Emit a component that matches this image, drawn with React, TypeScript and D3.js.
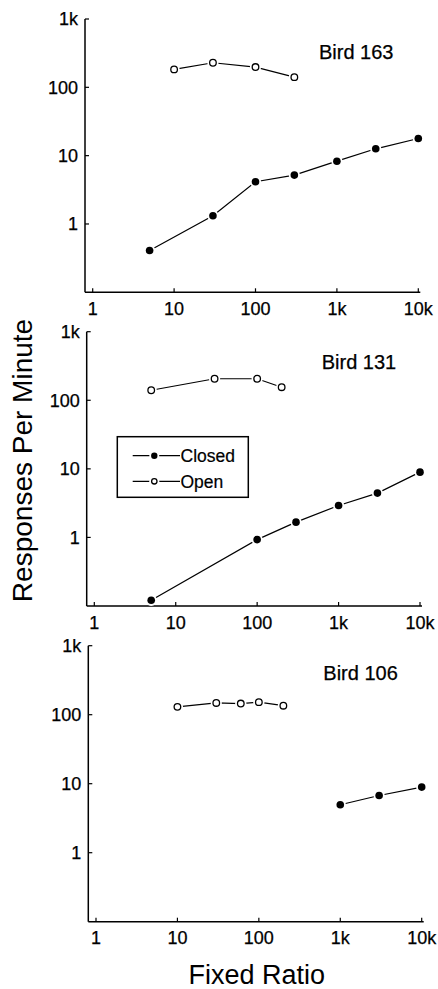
import React from "react";
import * as d3 from "d3";

const birdNames = ["Bird 163", "Bird 131", "Bird 106"];

const bird163OpenX = [10, 30, 100, 300];
const bird163OpenY = [183, 229, 198, 141];
const bird163ClosedX = [5, 30, 100, 300, 1000, 3000, 10000];
const bird163ClosedY = [0.41, 1.32, 4.15, 5.19, 8.3, 12.6, 17.8];

const bird131OpenX = [5, 30, 100, 200];
const bird131OpenY = [140, 206, 206, 155];
const bird131ClosedX = [5, 100, 300, 1000, 3000, 10000];
const bird131ClosedY = [0.121, 0.93, 1.67, 2.92, 4.43, 8.95];

const bird106OpenX = [10, 30, 60, 100, 200];
const bird106OpenY = [130, 148, 145, 152, 135];
const bird106ClosedX = [1000, 3000, 10000];
const bird106ClosedY = [4.95, 6.75, 8.93];

const xTickValues = [1, 10, 100, 1000, 10000];
const xTickLabels = ["1", "10", "100", "1k", "10k"];
const yTickValues = [1, 10, 100, 1000];
const yTickLabels = ["1", "10", "100", "1k"];

const seriesNames = ["Closed", "Open"];
const xTitle = "Fixed Ratio";
const yTitle = "Responses Per Minute";

const zip = (xs: number[], ys: number[]) => xs.map((x, i) => ({ x, y: ys[i] }));

const panelData = [
  { closed: zip(bird163ClosedX, bird163ClosedY), open: zip(bird163OpenX, bird163OpenY) },
  { closed: zip(bird131ClosedX, bird131ClosedY), open: zip(bird131OpenX, bird131OpenY) },
  { closed: zip(bird106ClosedX, bird106ClosedY), open: zip(bird106OpenX, bird106OpenY) },
];

// layout (slightly skewed, as in the scanned original)
const layout = [
  { left: 85, x0: 92.7, x1: 418.3, top: 19, bottom: 292.3, labelX: 319, labelY: 58.5 },
  { left: 86.7, x0: 94.3, x1: 420, top: 331.7, bottom: 606, labelX: 321.7, labelY: 368.5 },
  { left: 88.3, x0: 96, x1: 421.7, top: 645.7, bottom: 921.7, labelX: 323.3, labelY: 680 },
];

const FONT = "'Liberation Sans', Arial, Helvetica, sans-serif";

function Marker({ cx, cy, filled, r }: { cx: number; cy: number; filled: boolean; r: number }) {
  return (
    <g>
      <circle cx={cx} cy={cy} r={r + 1.8} fill="#fff" />
      {filled ? (
        <circle cx={cx} cy={cy} r={r} fill="#000" />
      ) : (
        <circle cx={cx} cy={cy} r={r - 0.5} fill="#fff" stroke="#000" strokeWidth={1.3} />
      )}
    </g>
  );
}

function Panel({ idx }: { idx: number }) {
  const L = layout[idx];
  const d = panelData[idx];
  const x = d3.scaleLog().domain([1, 10000]).range([L.x0, L.x1]);
  const y = d3.scaleLog().domain([0.1, 1000]).range([L.bottom, L.top]);
  const line = d3
    .line<{ x: number; y: number }>()
    .x((p) => x(p.x))
    .y((p) => y(p.y));
  return (
    <g>
      <line x1={L.left} x2={L.left} y1={L.top} y2={L.bottom} stroke="#000" strokeWidth={1.5} />
      <line x1={L.left} x2={L.x1 + 2} y1={L.bottom} y2={L.bottom} stroke="#000" strokeWidth={1.5} />
      {yTickValues.map((v, i) => (
        <g key={"y" + i}>
          <line x1={L.left} x2={L.left + 4} y1={y(v)} y2={y(v)} stroke="#000" strokeWidth={1.2} />
          <text x={L.left - 7} y={y(v)} dy="0.36em" textAnchor="end" fontSize={18} fontFamily={FONT}
            stroke="#000" strokeWidth={0.25}>
            {yTickLabels[i]}
          </text>
        </g>
      ))}
      {xTickValues.map((v, i) => (
        <g key={"x" + i}>
          <line x1={x(v)} x2={x(v)} y1={L.bottom} y2={L.bottom - 4} stroke="#000" strokeWidth={1.2} />
          <text x={x(v)} y={L.bottom + 22.5} textAnchor="middle" fontSize={18} fontFamily={FONT}
            stroke="#000" strokeWidth={0.25}>
            {xTickLabels[i]}
          </text>
        </g>
      ))}
      <path d={line(d.open) || ""} fill="none" stroke="#000" strokeWidth={1.2} />
      <path d={line(d.closed) || ""} fill="none" stroke="#000" strokeWidth={1.2} />
      {d.open.map((p, i) => (
        <Marker key={"o" + i} cx={x(p.x)} cy={y(p.y)} filled={false} r={3.8} />
      ))}
      {d.closed.map((p, i) => (
        <Marker key={"c" + i} cx={x(p.x)} cy={y(p.y)} filled={true} r={3.8} />
      ))}
      <text x={L.labelX} y={L.labelY} fontSize={20} fontFamily={FONT} stroke="#000" strokeWidth={0.25}>
        {birdNames[idx]}
      </text>
    </g>
  );
}

export default function App() {
  const legendRows = [455.7, 481.3];
  return (
    <svg
      width={438}
      height={989}
      viewBox="0 0 438 989"
      style={{ position: "absolute", left: 0, top: 0, background: "#fff" }}
    >
      <rect x={0} y={0} width={438} height={989} fill="#fff" />
      {layout.map((_, i) => (
        <Panel key={i} idx={i} />
      ))}
      <rect x={117.3} y={436.7} width={131} height={60.6} fill="#fff" stroke="#000" strokeWidth={1.5} />
      {seriesNames.map((name, i) => (
        <g key={name}>
          <line x1={132.7} x2={180} y1={legendRows[i]} y2={legendRows[i]} stroke="#000" strokeWidth={1.2} />
          <Marker cx={154.3} cy={legendRows[i]} filled={i === 0} r={3.2} />
          <text x={180.5} y={legendRows[i]} dy="0.36em" fontSize={17.5} fontFamily={FONT}
            stroke="#000" strokeWidth={0.2}>
            {name}
          </text>
        </g>
      ))}
      <text
        transform="translate(32,460.5) rotate(-90)"
        textAnchor="middle"
        fontSize={28}
        fontFamily={FONT}
      >
        {yTitle}
      </text>
      <text x={256.7} y={984} textAnchor="middle" fontSize={27} fontFamily={FONT}>
        {xTitle}
      </text>
    </svg>
  );
}
